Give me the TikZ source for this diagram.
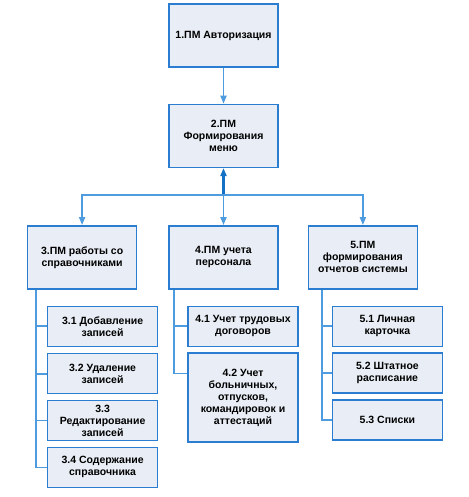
\documentclass[tikz,border=0pt]{standalone}
\usepackage{fontspec}
\setmainfont{Liberation Sans}
\usetikzlibrary{arrows.meta,positioning,calc}
\definecolor{pmline}{HTML}{4F9BE0}
\definecolor{pmedge}{HTML}{2A7DD0}
\definecolor{pmfill}{HTML}{E9EEF6}
\definecolor{pmarrow}{HTML}{1470C4}

\begin{document}
\begin{tikzpicture}[x=1pt,y=1pt,font=\fontsize{10.5}{12}\selectfont\bfseries,
  pm/.style={draw=pmedge,line width=1.4pt,fill=pmfill,align=center,inner sep=0pt,minimum width=109pt,minimum height=63pt},
  sub/.style={pm,minimum width=110pt,minimum height=40pt},
  link/.style={draw=pmline,line width=1.8pt},
  arr/.style={link,-{Triangle[length=8pt,width=6pt]}}]
\useasboundingbox (0,0) rectangle (468,-497);
% main modules
\node[pm] (pm1) at (223.5,-35.5) {1.ПМ Авторизация};
\node[pm,below=36pt of pm1] (pm2) {2.ПМ\\Формирования\\меню};
\node[pm,below=57pt of pm2] (pm4) {4.ПМ учета\\персонала};
\node[pm,left=31pt of pm4] (pm3) {3.ПМ работы со\\справочниками};
\node[pm,right=29pt of pm4] (pm5) {5.ПМ\\формирования\\отчетов системы};
\coordinate (bus) at ($(pm2.south)+(0,-27pt)$);
% submodules
\node[sub,below right=16pt and 20pt of pm3.south west] (s31) {3.1 Добавление\\записей};
\node[sub,below=6pt of s31] (s32) {3.2 Удаление\\записей};
\node[sub,below=5.5pt of s32] (s33) {3.3\\Редактирование\\записей};
\node[sub,below=5.5pt of s33] (s34) {3.4 Содержание\\справочника};
\node[sub,below right=16pt and 19pt of pm4.south west] (s41) {4.1 Учет трудовых\\договоров};
\node[sub,below=5.5pt of s41,minimum height=89pt] (s42) {4.2 Учет\\больничных,\\отпусков,\\командировок и\\аттестаций};
\node[sub,below right=16pt and 24pt of pm5.south west] (s51) {5.1 Личная\\карточка};
\node[sub,below=5.5pt of s51] (s52) {5.2 Штатное\\расписание};
\node[sub,below=5.5pt of s52] (s53) {5.3 Списки};
% connectors
\draw[arr] (pm1) -- (pm2);
\draw[arr,draw=pmarrow,line width=2.2pt] (bus) -- (pm2);
\draw[arr] (bus) -| (pm3);
\draw[arr] (bus) -- (pm4);
\draw[arr] (bus) -| (pm5);
\foreach \s in {s31,s32,s33,s34}
  \draw[link] ([xshift=9pt]pm3.south west) |- (\s.west);
\draw[link] ([xshift=6pt]pm4.south west) |- (s41.west);
\draw[link] ([xshift=6pt]pm4.south west) |- ([yshift=-21pt]s42.north west);
\foreach \s in {s51,s52,s53}
  \draw[link] ([xshift=14pt]pm5.south west) |- (\s.west);
\end{tikzpicture}
\end{document}
